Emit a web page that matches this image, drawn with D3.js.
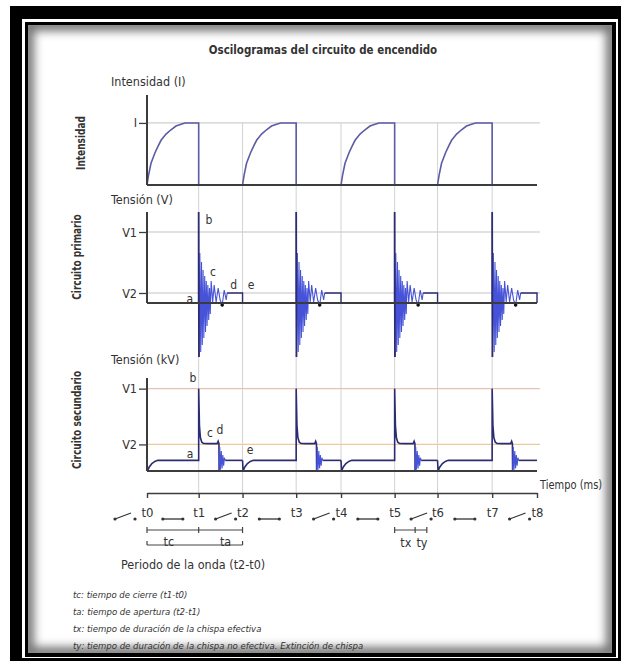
<!DOCTYPE html>
<html>
<head>
<meta charset="utf-8">
<script src="https://cdn.jsdelivr.net/npm/d3@7/dist/d3.min.js"></script>
<style>
  body { margin: 0; background: #fff; }
  svg { display: block; }
  text { font-family: "Liberation Sans Narrow", "DejaVu Sans Condensed", "Roboto Condensed", sans-serif; font-stretch: condensed; fill: #333; }
</style>
</head>
<body>
<div id="chart"></div>
<script>
// Time ticks (ms)
const tickLabels = ["t0", "t1", "t2", "t3", "t4", "t5", "t6", "t7", "t8"];
const tickTimes = [0, 5.3, 9.8, 15.3, 19.9, 25.4, 29.8, 35.4, 40];
const closeTimes = [0, 9.8, 19.9, 29.8];   // contacts close
const openTimes = [5.3, 15.3, 25.4, 35.4]; // contacts open

// Intensity: rise after closing (dt ms, I)
const currentRise = [[0, 0], [0.15, 0.15], [0.41, 0.35], [0.82, 0.52], [1.15, 0.63], [1.44, 0.72],
  [1.95, 0.82], [2.46, 0.89], [2.97, 0.95], [3.49, 0.98], [3.9, 1]];
const levelI = 1;

// Primary voltage (dt ms after opening, value)
const primaryLevels = { V1: 7.1, V2: 1 };
const primarySpike = [[0, 0], [0, 9.1], [0.03, -5.4]];
const primaryOsc = [[0.03, -5.4], [0.12, 5.0], [0.21, -4.9], [0.29, 4.1], [0.37, -4.2], [0.45, 3.3],
  [0.53, -3.5], [0.62, 2.7], [0.70, -2.9], [0.78, 2.2], [0.86, -2.3], [0.94, 1.8], [1.03, -1.7],
  [1.11, 1.5], [1.19, -1.1], [1.28, 2.2], [1.44, 0.1], [1.59, 1.8], [1.79, 0.1], [2.0, 1.5],
  [2.2, 0.3], [2.41, -0.2], [2.62, 1.3], [2.82, 0.3], [2.92, 1.0]];
const primaryDot = [2.41, -0.2];
const primaryTail = 2.92;

// Secondary voltage (kV)
const secondaryLevels = { V1: 31, V2: 10 };
const secondaryRest = 4;
const secondaryHook = [[0, 4], [0.05, 0], [0.25, 1.6], [0.5, 2.8], [0.8, 3.6], [1.1, 4]];
const secondaryMain = [[0, 4], [0, 31], [0.08, 17], [0.18, 12.5], [0.32, 10.8], [0.5, 10.4],
  [1.0, 10.3], [1.9, 10.3], [2.0, 11.2], [2.08, 10.3], [2.1, 0]];
const secondaryOsc = [[2.1, 0], [2.16, 9], [2.24, 0.5], [2.32, 7.5], [2.4, 1], [2.48, 6],
  [2.56, 2], [2.64, 5], [2.72, 4]];
const secondaryTail = 2.72;

// Spark durations after t5 (tx, ty)
const sparkMarks = [0, 2.1, 3.3];

// Letter annotations [label, t, value]
const primaryNotes = [["a", 4.4, 0.05], ["b", 6.36, 7.9], ["c", 6.77, 2.7], ["d", 8.9, 1.4], ["e", 10.67, 1.4]];
const secondaryNotes = [["b", 4.72, 33.5], ["c", 6.46, 12.8], ["d", 7.49, 13.9], ["a", 4.41, 4.9], ["e", 10.56, 6.4]];

const footnotes = [
  "tc: tiempo de cierre (t1-t0)",
  "ta: tiempo de apertura (t2-t1)",
  "tx: tiempo de duración de la chispa efectiva",
  "ty: tiempo de duración de la chispa no efectiva. Extinción de chispa"
];

const W = 622, H = 664;
const navy = "#2c2c72", blue = "#4653d8", pulse = "#5b5ba6", axisCol = "#3c3c3c", grid = "#d2d2d2";

const svg = d3.select("#chart").append("svg")
    .attr("width", W)
    .attr("height", H);

// Frame
svg.append("rect").attr("x", 10).attr("y", 6).attr("width", 611).attr("height", 655).attr("fill", "#000");
svg.append("rect").attr("x", 22).attr("y", 19).attr("width", 596).attr("height", 639).attr("fill", "#fff");
svg.append("rect").attr("x", 25).attr("y", 22).attr("width", 591).attr("height", 635).attr("fill", "#000");
svg.append("rect").attr("x", 28).attr("y", 25).attr("width", 584).attr("height", 628).attr("fill", "#fff");

const defs = svg.append("defs");
defs.append("clipPath").attr("id", "inner")
  .append("rect").attr("x", 28).attr("y", 25).attr("width", 584).attr("height", 628);
defs.append("filter").attr("id", "soft").attr("x", "-10%").attr("y", "-10%").attr("width", "120%").attr("height", "120%")
  .append("feGaussianBlur").attr("stdDeviation", 5);
svg.append("g").attr("clip-path", "url(#inner)")
  .append("rect")
    .attr("x", 28).attr("y", 25).attr("width", 584).attr("height", 628)
    .attr("fill", "none").attr("stroke", "#000").attr("stroke-opacity", 0.55)
    .attr("stroke-width", 12).attr("filter", "url(#soft)");

// Scales
const x = d3.scaleLinear().domain([0, 40]).range([147, 537]);
const yI = d3.scaleLinear().domain([0, 1.45]).range([185, 95]);
const yP = d3.scaleLinear().domain([-5.4, 9.1]).range([357, 212]);
const yS = d3.scaleLinear().domain([0, 35]).range([471, 378]);
const axisY = 493;

const line = d3.line();

// Narrowed text helper
function txt(px, py, str, size, opts = {}) {
  const sx = opts.sx || 1;
  return svg.append("text")
    .attr("transform", `translate(${px},${py})${opts.rot ? " rotate(-90)" : ""} scale(${sx},1)`)
    .attr("text-anchor", opts.anchor || "start")
    .attr("dominant-baseline", opts.rot ? "central" : null)
    .style("font-size", size + "px")
    .style("font-weight", opts.bold ? "bold" : null)
    .style("font-style", opts.italic ? "italic" : null)
    .attr("fill", opts.fill || "#333")
    .text(str);
}

// Title
txt(323, 53.5, "Oscilogramas del circuito de encendido", 13, { anchor: "middle", bold: true, sx: 0.88, fill: "#2a2a2a" });

// Vertical grid lines t1..t7
svg.append("g").selectAll("line")
  .data(tickTimes.slice(1, 8))
  .enter().append("line")
    .attr("x1", d => x(d)).attr("x2", d => x(d))
    .attr("y1", yI(levelI)).attr("y2", axisY)
    .attr("stroke", grid).attr("stroke-width", 1);

// Panel helpers
function hline(y, color) {
  svg.append("line")
    .attr("x1", x(0)).attr("x2", x(40.3))
    .attr("y1", y).attr("y2", y)
    .attr("stroke", color).attr("stroke-width", 1.2);
}
function leftAxis(scale, values, labels, top, bottom) {
  const g = svg.append("g")
      .attr("transform", `translate(${x(0)},0)`)
      .call(d3.axisLeft(scale).tickValues(values).tickFormat((d, i) => labels[i]).tickSize(8).tickPadding(2));
  g.select(".domain").remove();
  g.selectAll(".tick line").attr("stroke", axisCol).attr("stroke-width", 1.3);
  g.selectAll(".tick text").style("font-size", "12.5px").attr("fill", "#333");
  svg.append("line")
    .attr("x1", x(0)).attr("x2", x(0)).attr("y1", top).attr("y2", bottom)
    .attr("stroke", axisCol).attr("stroke-width", 2);
  svg.append("line")
    .attr("x1", x(0)).attr("x2", x(40)).attr("y1", bottom).attr("y2", bottom)
    .attr("stroke", axisCol).attr("stroke-width", 2.2);
}
function notes(list, yScale) {
  svg.append("g").selectAll("text")
    .data(list)
    .enter().append("text")
      .attr("x", d => x(d[1])).attr("y", d => yScale(d[2]))
      .attr("text-anchor", "middle")
      .style("font-size", "12px")
      .text(d => d[0]);
}

// ---- Intensity panel
txt(111, 86, "Intensidad (I)", 12.5);
txt(81, 143, "Intensidad", 12.5, { rot: true, bold: true, anchor: "middle", sx: 0.8, fill: "#333" });
hline(yI(levelI), "#cfcfcf");
closeTimes.forEach((c, i) => {
  const pts = currentRise.map(p => [c + p[0], p[1]])
    .concat([[openTimes[i], levelI], [openTimes[i], 0]]);
  svg.append("path")
    .attr("d", line.x(d => x(d[0])).y(d => yI(d[1]))(pts))
    .attr("fill", "none").attr("stroke", pulse).attr("stroke-width", 1.6);
});
leftAxis(yI, [levelI], ["I"], yI(1.45), yI(0));

// ---- Primary panel
txt(111, 204, "Tensión (V)", 12.5);
txt(77, 257, "Circuito primario", 12.5, { rot: true, bold: true, anchor: "middle", sx: 0.8, fill: "#333" });
hline(yP(primaryLevels.V1), "#c4c4c4");
hline(yP(primaryLevels.V2), "#c4c4c4");
openTimes.forEach((o, i) => {
  const next = tickTimes[2 * i + 2];
  const lp = d3.line().x(d => x(d[0])).y(d => yP(d[1]));
  svg.append("path")
    .attr("d", lp(primaryOsc.map(p => [o + p[0], p[1]])))
    .attr("fill", "none").attr("stroke", blue).attr("stroke-width", 1.1);
  svg.append("path")
    .attr("d", lp(primarySpike.map(p => [o + p[0], p[1]])))
    .attr("fill", "none").attr("stroke", navy).attr("stroke-width", 1.8);
  svg.append("path")
    .attr("d", lp([[o + primaryTail, primaryLevels.V2], [next, primaryLevels.V2], [next, 0]]))
    .attr("fill", "none").attr("stroke", navy).attr("stroke-width", 1.4);
  svg.append("circle")
    .attr("cx", x(o + primaryDot[0])).attr("cy", yP(primaryDot[1]))
    .attr("r", 1.8).attr("fill", "#111");
});
leftAxis(yP, [primaryLevels.V1, primaryLevels.V2], ["V1", "V2"], yP(9.1), yP(0));
notes(primaryNotes, yP);

// ---- Secondary panel
txt(111, 364, "Tensión (kV)", 12.5);
txt(77, 420, "Circuito secundario", 12.5, { rot: true, bold: true, anchor: "middle", sx: 0.8, fill: "#333" });
hline(yS(secondaryLevels.V1), "#e6c2b6");
hline(yS(secondaryLevels.V2), "#f1c79c");
openTimes.forEach((o, i) => {
  const c = closeTimes[i];
  const next = tickTimes[2 * i + 2];
  const ls = d3.line().x(d => x(d[0])).y(d => yS(d[1]));
  const main = secondaryHook.map(p => [c + p[0], p[1]])
    .concat(secondaryMain.map(p => [o + p[0], p[1]]));
  svg.append("path")
    .attr("d", ls(main))
    .attr("fill", "none").attr("stroke", navy).attr("stroke-width", 1.6);
  svg.append("path")
    .attr("d", ls(secondaryOsc.map(p => [o + p[0], p[1]])))
    .attr("fill", "none").attr("stroke", blue).attr("stroke-width", 1.1);
  svg.append("path")
    .attr("d", ls([[o + secondaryTail, secondaryRest], [next, secondaryRest]]))
    .attr("fill", "none").attr("stroke", navy).attr("stroke-width", 1.6);
});
leftAxis(yS, [secondaryLevels.V1, secondaryLevels.V2], ["V1", "V2"], yS(35), yS(0));
notes(secondaryNotes, yS);

// ---- Time axis
const tAxis = svg.append("g")
    .attr("transform", `translate(0,${axisY})`)
    .call(d3.axisBottom(x).tickValues(tickTimes).tickFormat((d, i) => tickLabels[i])
      .tickSize(5).tickSizeOuter(0).tickPadding(10));
tAxis.select(".domain").attr("stroke", axisCol).attr("stroke-width", 1.6);
tAxis.selectAll(".tick line").attr("stroke", axisCol).attr("stroke-width", 1.4);
tAxis.selectAll(".tick text").style("font-size", "13px").attr("fill", "#333");

txt(540, 489, "Tiempo (ms)", 12.5, { sx: 0.88 });

// Switch symbols (open / closed) between ticks
const swY = 517;
const switches = [{ cx: x(0) - 22, open: true }];
for (let k = 1; k < tickTimes.length; k++) {
  const mid = (x(tickTimes[k - 1]) + x(tickTimes[k])) / 2;
  switches.push(k % 2 === 1 ? { cx: mid, open: false } : { cx: mid + 5, open: true });
}
const sw = svg.append("g").selectAll("g")
  .data(switches)
  .enter().append("g")
    .attr("transform", d => `translate(${d.cx},${swY})`);
sw.append("line")
    .attr("x1", -10).attr("y1", 2)
    .attr("x2", d => d.open ? 6 : 10).attr("y2", d => d.open ? -4 : 2)
    .attr("stroke", "#333").attr("stroke-width", 1.3);
sw.append("circle").attr("cx", -10).attr("cy", 2).attr("r", 1.6).attr("fill", "#333");
sw.append("circle").attr("cx", 10).attr("cy", 2).attr("r", 1.6).attr("fill", "#333");

// Brackets tc / ta
function bracket(t0, t1, mids, y, up) {
  const g = svg.append("g").attr("stroke", "#444").attr("stroke-width", 1.2);
  g.append("line").attr("x1", x(t0)).attr("x2", x(t1)).attr("y1", y).attr("y2", y);
  [t0].concat(mids, [t1]).forEach(t => {
    g.append("line").attr("x1", x(t)).attr("x2", x(t))
      .attr("y1", up ? y - 4 : y - 3).attr("y2", up ? y : y + 3);
  });
}
bracket(tickTimes[0], tickTimes[2], [tickTimes[1]], 530, false);
bracket(tickTimes[0], tickTimes[2], [], 545, true);
txt((x(tickTimes[0]) + x(tickTimes[1])) / 2 - 4, 546, "tc", 12.5, { anchor: "middle" });
txt((x(tickTimes[1]) + x(tickTimes[2])) / 2 + 5, 546, "ta", 12.5, { anchor: "middle" });

// tx / ty bracket after t5
const t5 = tickTimes[5];
bracket(t5 + sparkMarks[0], t5 + sparkMarks[2], [t5 + sparkMarks[1]], 530, false);
txt((x(t5 + sparkMarks[0]) + x(t5 + sparkMarks[1])) / 2 + 1, 547, "tx", 12.5, { anchor: "middle" });
txt((x(t5 + sparkMarks[1]) + x(t5 + sparkMarks[2])) / 2 + 1, 547, "ty", 12.5, { anchor: "middle" });

txt(121, 569, "Periodo de la onda (t2-t0)", 12.5, { fill: "#444" });

// Footnotes
svg.append("g").selectAll("text")
  .data(footnotes)
  .enter().append("text")
    .attr("x", 73).attr("y", (d, i) => 598 + i * 17)
    .style("font-size", "9.5px").style("font-style", "italic").attr("fill", "#555")
    .text(d => d);
</script>
</body>
</html>
